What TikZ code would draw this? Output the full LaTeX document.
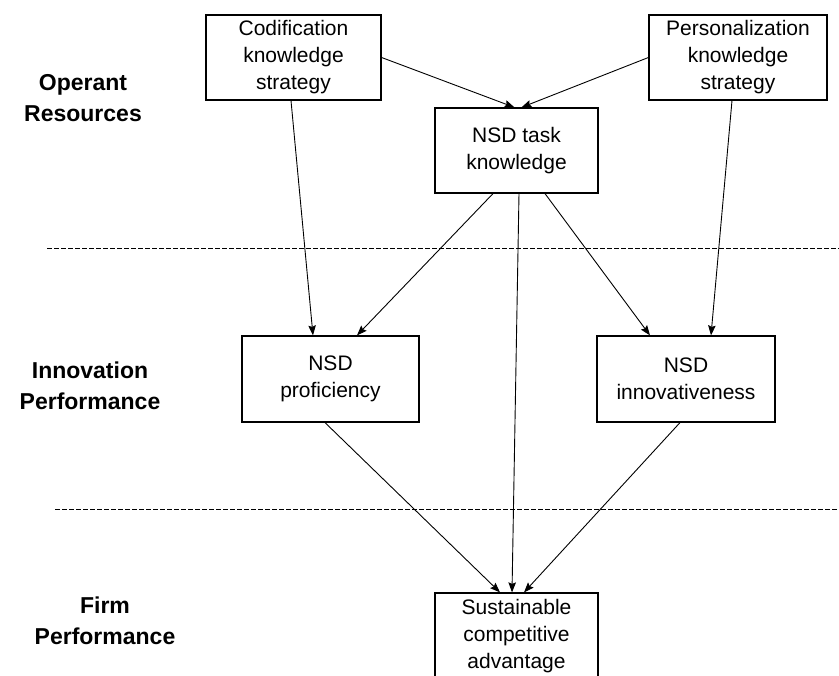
\documentclass[tikz,border=0pt]{standalone}
\usepackage{fontspec}
\setmainfont{Liberation Sans}
\usetikzlibrary{arrows.meta}
\begin{document}
\begin{tikzpicture}[x=1pt,y=-1pt,
  box/.style={draw, line width=1.2pt, align=center, inner sep=0pt,
    font=\fontsize{21}{27}\selectfont},
  layer/.style={align=center, font=\bfseries\fontsize{23}{31}\selectfont},
  link/.style={line width=0.9pt, -{Stealth[length=10pt,width=7.5pt,inset=1.5pt]}},
  divider/.style={line width=0.7pt, dash pattern=on 5pt off 2pt}]
\useasboundingbox (0,0) rectangle (839,676);

% boxes
\node[box, minimum width=175pt, minimum height=85pt] (cod) at (293.5,57.5)
  {Codification\\knowledge\\strategy};
\node[box, minimum width=178pt, minimum height=85pt] (pers) at (738,57.5)
  {Personalization\\knowledge\\strategy};
\node[box, minimum width=163pt, minimum height=85pt] (task) at (516.5,150.5)
  {NSD task\\knowledge};
\node[box, minimum width=177pt, minimum height=86pt] (prof) at (330.5,379)
  {NSD\\proficiency};
\node[box, minimum width=178pt, minimum height=86pt] (innov) at (686,379)
  {NSD\\innovativeness};
\node[box, minimum width=163pt, minimum height=86pt] (sca) at (516.5,636)
  {Sustainable\\competitive\\advantage};

% layer labels
\node[layer] (lop) at (83,98.5) {Operant\\Resources};
\node[layer] (lin) at (90,385.5) {Innovation\\Performance};
\node[layer] (lfi) at (105,621) {Firm\\Performance};

% layer dividers
\coordinate (d1a) at (47,248);
\coordinate (d1b) at (839,248);
\coordinate (d2a) at (55,509);
\coordinate (d2b) at (839,509);
\draw[divider] (d1a) -- (d1b);
\draw[divider] (d2a) -- (d2b);

% connectors
\draw[link] (cod.east) -- ([xshift=-2pt]task.north);
\draw[link] (pers.west) -- ([xshift=5pt]task.north);
\draw[link] ([xshift=-2.5pt]cod.south) -- ([xshift=-17.5pt]prof.north);
\draw[link] ([xshift=-6pt]pers.south) -- ([xshift=25pt]innov.north);
\draw[link] ([xshift=-23.5pt]task.south) -- ([xshift=26.5pt]prof.north);
\draw[link] ([xshift=28.5pt]task.south) -- ([xshift=-36pt]innov.north);
\draw[link] ([xshift=2.5pt]task.south) -- ([xshift=-4.5pt]sca.north);
\draw[link] ([xshift=-5.5pt]prof.south) -- ([xshift=-16.5pt]sca.north);
\draw[link] ([xshift=-6pt]innov.south) -- ([xshift=7.5pt]sca.north);
\end{tikzpicture}
\end{document}
